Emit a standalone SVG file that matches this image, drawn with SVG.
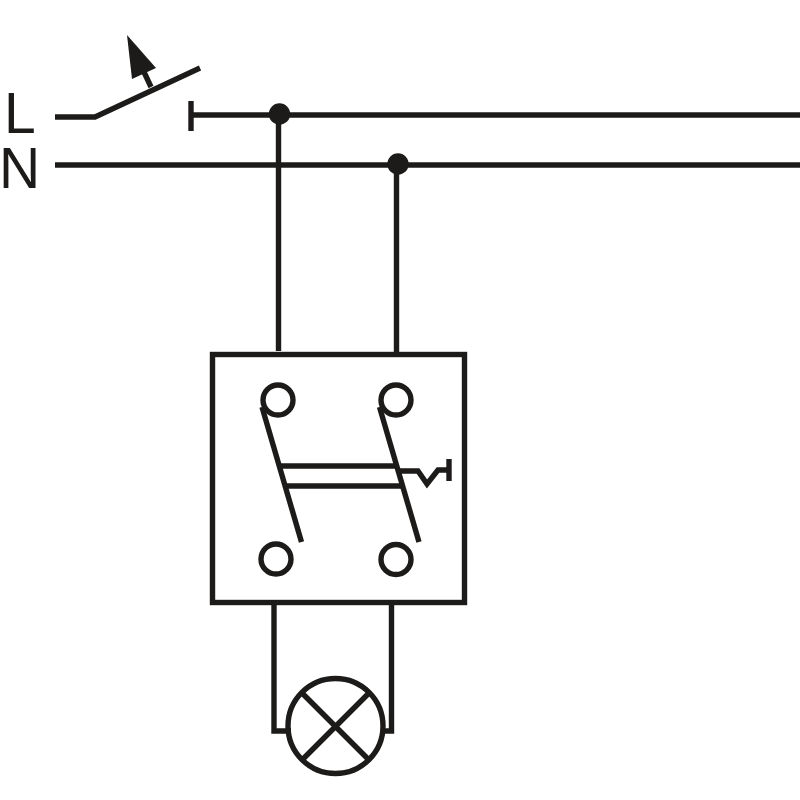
<svg xmlns="http://www.w3.org/2000/svg" width="800" height="800" viewBox="0 0 800 800">
<style>
.w{fill:none;stroke:#1d1b1a;stroke-width:5.4;stroke-linejoin:miter}
.d{fill:#1d1b1a}
.l{font-family:"Liberation Sans",Arial,sans-serif;font-size:57px;fill:#1d1b1a}
</style>
<rect width="800" height="800" fill="#fff"/>
<g id="connectors">
<path class="w" d="M55 117H95L200 68"/>
<path class="w" d="M191 115H800"/>
<path class="w" d="M191 101V131"/>
<path class="w" d="M55 165H800"/>
<path class="w" d="M278.500 115V351"/>
<path class="w" d="M396.500 164V353"/>
<path class="w" d="M274 603V731H291"/>
<path class="w" d="M391.500 603V731H382"/>
<path class="w" d="M151 87L144 72"/>
<polygon class="d" points="127,35 156,68 132,79"/>
<circle class="d" cx="279.500" cy="114" r="10.700"/>
<circle class="d" cx="398" cy="164" r="10.700"/>
</g>
<g id="label-L"><text class="l" x="4" y="133">L</text></g>
<g id="label-N"><text class="l" x="-1" y="188">N</text></g>
<g id="switch">
<rect class="w" x="212.500" y="354.500" width="252" height="248"/>
<circle class="w" cx="278" cy="400" r="15"/>
<circle class="w" cx="396" cy="400" r="15"/>
<circle class="w" cx="276" cy="559" r="15"/>
<circle class="w" cx="396" cy="559.500" r="15"/>
<path class="w" d="M262 407L301.500 542"/>
<path class="w" d="M379.500 407L419 542"/>
<path class="w" d="M280 466H397"/>
<path class="w" d="M287 486H404"/>
<path class="w" d="M400 471H418L427 484L438 470H449"/>
<path class="w" d="M449 459V481"/>
</g>
<g id="lamp">
<circle class="w" cx="335.500" cy="726" r="47.500"/>
<path class="w" d="M302 693L369 760M369 693L302 760"/>
</g>
</svg>
